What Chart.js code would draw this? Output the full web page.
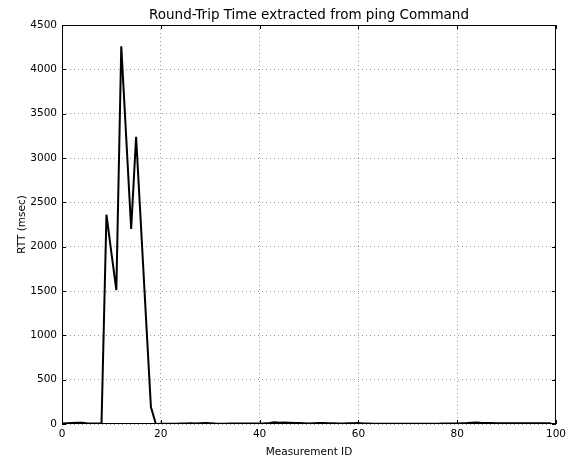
<!DOCTYPE html>
<html lang="en">
<head>
  <meta charset="UTF-8" />
  <title>Round-Trip Time</title>
  <script src="https://cdn.jsdelivr.net/npm/chart.js"></script>
  <style>
    html, body { margin: 0; padding: 0; background: #fff; }
    #wrap { width: 570px; height: 461px; }
  </style>
</head>
<body>
  <div id="wrap"><canvas id="rttChart" width="570" height="461"></canvas></div>

  <script>
    // RTT per measurement (msec), measurement ids 0..99
    const rttValues = [
      5, 8, 12, 15, 14, 8, 6, 7, 5, 2360,
      1930, 1510, 4260, 3230, 2200, 3240, 2220, 1200, 190, 0,
      2, 3, 3, 4, 5, 6, 8, 7, 9, 10,
      8, 5, 4, 4, 5, 6, 7, 6, 5, 5,
      6, 8, 12, 20, 14, 18, 15, 12, 10, 8,
      6, 9, 12, 10, 9, 8, 6, 7, 8, 9,
      10, 7, 5, 4, 4, 3, 3, 2, 2, 2,
      3, 3, 3, 3, 4, 4, 4, 5, 5, 6,
      7, 8, 10, 14, 16, 12, 10, 10, 9, 9,
      8, 8, 8, 8, 8, 9, 9, 9, 8, 8
    ];
    const measurementIds = rttValues.map((v, i) => i);
    const xTicks = [0, 20, 40, 60, 80, 100];
    const yTicks = [0, 500, 1000, 1500, 2000, 2500, 3000, 3500, 4000, 4500];

    const FONT = "'DejaVu Sans', sans-serif";

    // box around plot + inward ticks + title, matplotlib style
    const framePlugin = {
      id: 'frame',
      afterDraw(chart) {
        const { ctx, chartArea: a, scales } = chart;
        ctx.save();
        ctx.strokeStyle = '#000';
        ctx.lineWidth = 1;
        ctx.strokeRect(a.left + 0.5, a.top + 0.5, a.right - a.left - 1, a.bottom - a.top - 1);
        ctx.beginPath();
        xTicks.forEach(t => {
          const x = Math.round(scales.x.getPixelForValue(t)) + 0.5;
          ctx.moveTo(x, a.bottom); ctx.lineTo(x, a.bottom - 4);
          ctx.moveTo(x, a.top); ctx.lineTo(x, a.top + 4);
        });
        yTicks.forEach(t => {
          const y = Math.round(scales.y.getPixelForValue(t)) + 0.5;
          ctx.moveTo(a.left, y); ctx.lineTo(a.left + 4, y);
          ctx.moveTo(a.right, y); ctx.lineTo(a.right - 4, y);
        });
        ctx.stroke();
        ctx.fillStyle = '#000';
        ctx.font = '13.5px ' + FONT;
        ctx.textAlign = 'center';
        ctx.textBaseline = 'middle';
        ctx.fillText('Round-Trip Time extracted from ping Command', (a.left + a.right) / 2, 15);
        ctx.restore();
      }
    };

    new Chart(document.getElementById('rttChart'), {
      type: 'line',
      data: {
        labels: measurementIds,
        datasets: [{
          label: 'RTT',
          data: measurementIds.map((id, i) => ({ x: id, y: rttValues[i] })),
          borderColor: '#000',
          borderWidth: 2,
          pointRadius: 0,
          fill: false,
          tension: 0
        }]
      },
      options: {
        responsive: false,
        animation: false,
        layout: { padding: { left: 0, right: 12, top: 25, bottom: 0 } },
        plugins: { legend: { display: false }, title: { display: false }, tooltip: { enabled: false } },
        scales: {
          x: {
            type: 'linear',
            min: 0, max: 100,
            afterBuildTicks: s => { s.ticks = xTicks.map(v => ({ value: v })); },
            afterFit: s => { s.height = 37; },
            grid: { color: '#999', drawTicks: false },
            border: { display: false, dash: [1, 3] },
            ticks: { color: '#000', font: { family: FONT, size: 10.5 }, padding: 4, maxRotation: 0, callback: v => String(v) },
            title: { display: true, text: 'Measurement ID', color: '#000', font: { family: FONT, size: 10.5 }, padding: { top: 1, bottom: 2 } }
          },
          y: {
            min: 0, max: 4500,
            afterBuildTicks: s => { s.ticks = yTicks.map(v => ({ value: v })); },
            afterFit: s => { s.width = 62; },
            grid: { color: '#999', drawTicks: false },
            border: { display: false, dash: [1, 3] },
            ticks: { color: '#000', font: { family: FONT, size: 10.5 }, padding: 5, callback: v => String(v) },
            title: { display: true, text: 'RTT (msec)', color: '#000', font: { family: FONT, size: 10.5 }, padding: { top: 16, bottom: 0 } }
          }
        }
      },
      plugins: [framePlugin]
    });
  </script>
</body>
</html>
